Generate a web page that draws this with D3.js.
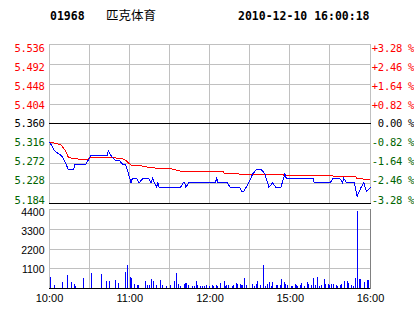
<!DOCTYPE html>
<html><head><meta charset="utf-8">
<script src="https://cdn.jsdelivr.net/npm/d3@7"></script>
<style>body{margin:0;background:#fff}svg{display:block}</style>
</head><body><svg id="c" width="414" height="314"></svg>
<script>
const stockCode = "01968";
const stockName = "匹克体育";
const stamp = "2010-12-10 16:00:18";
const prevClose = 5.360;
const priceTicks = [5.536, 5.492, 5.448, 5.404, 5.360, 5.316, 5.272, 5.228, 5.184];
const pctTicks = ["+3.28 %", "+2.46 %", "+1.64 %", "+0.82 %", "0.00 %", "-0.82 %", "-1.64 %", "-2.46 %", "-3.28 %"];
const volTicks = [4400, 3300, 2200, 1100];
const timeTicks = ["10:00", "11:00", "12:00", "15:00", "16:00"];
const gridTimes = ["10:00", "10:30", "11:00", "11:30", "12:00", "12:30", "15:00", "15:30", "16:00"];

const priceTimes = ["10:00","10:04","10:09","10:11","10:14","10:18","10:19","10:27","10:29","10:31","10:43","10:44","10:46","10:49","10:52","10:55","10:57","10:59","11:00","11:01","11:02","11:05","11:07","11:10","11:14","11:16","11:17","11:20","11:21","11:22","11:38","11:40","11:41","11:42","11:44","12:04","12:05","12:06","12:13","12:15","12:22","12:24","12:25","12:27","12:29","14:32","14:35","14:38","14:41","14:44","14:47","14:49","14:53","14:56","14:57","15:17","15:18","15:30","15:32","15:37","15:39","15:40","15:42","15:48","15:50","15:53","15:55","15:57","16:00"];
const priceValues = [5.32,5.30,5.29,5.28,5.26,5.26,5.27,5.27,5.28,5.29,5.29,5.30,5.29,5.28,5.28,5.27,5.27,5.25,5.24,5.23,5.24,5.24,5.23,5.24,5.24,5.23,5.24,5.22,5.23,5.22,5.22,5.23,5.23,5.22,5.23,5.23,5.24,5.23,5.23,5.22,5.22,5.21,5.21,5.22,5.23,5.25,5.26,5.26,5.25,5.22,5.23,5.22,5.22,5.25,5.24,5.24,5.23,5.23,5.24,5.24,5.23,5.24,5.23,5.23,5.20,5.22,5.23,5.21,5.22];

const avgTimes = ["10:00","10:05","10:09","10:12","10:14","10:15","10:23","10:29","10:30","10:49","10:56","10:59","11:01","11:09","11:16","11:31","11:35","11:37","12:00","12:10","12:11","12:26","14:56","15:30","15:31","15:49","15:50","15:56","16:00"];
const avgValues = [5.320,5.317,5.313,5.300,5.287,5.285,5.282,5.282,5.285,5.285,5.282,5.274,5.269,5.267,5.263,5.261,5.258,5.256,5.254,5.254,5.250,5.249,5.247,5.246,5.245,5.243,5.239,5.238,5.236];

const volTimes = ["10:01","10:04","10:10","10:14","10:17","10:19","10:20","10:26","10:32","10:39","10:43","10:45","10:50","10:52","10:57","10:59","11:01","11:02","11:04","11:06","11:07","11:12","11:14","11:15","11:17","11:18","11:20","11:23","11:25","11:28","11:31","11:34","11:35","11:37","11:38","11:41","11:42","11:43","11:44","11:47","11:49","11:50","11:51","11:53","11:55","11:56","11:58","12:00","12:02","12:03","12:05","12:06","12:08","12:11","12:12","12:13","12:14","12:17","12:18","12:20","12:21","12:23","12:24","12:25","12:26","12:28","14:32","14:34","14:35","14:36","14:38","14:40","14:42","14:43","14:45","14:46","14:47","14:50","14:51","14:53","14:54","14:56","14:57","14:58","15:01","15:02","15:04","15:05","15:06","15:08","15:09","15:11","15:13","15:14","15:16","15:18","15:19","15:21","15:22","15:24","15:26","15:27","15:29","15:30","15:31","15:33","15:35","15:36","15:38","15:39","15:41","15:43","15:44","15:46","15:48","15:49","15:51","15:52","15:53","15:56","15:58","15:59"];
const volValues = [630,185,315,740,315,240,130,575,850,760,370,370,425,260,910,1300,630,535,200,145,145,390,145,145,520,370,145,460,145,130,185,410,850,240,130,220,300,300,185,130,130,410,145,130,130,130,185,130,185,130,185,130,280,410,130,185,185,130,185,300,240,220,185,185,575,185,240,130,200,410,185,1300,110,240,330,110,330,165,165,165,500,330,220,165,110,110,240,185,130,165,275,110,350,240,185,575,185,630,110,185,520,220,240,185,220,220,185,130,185,220,400,400,260,165,130,575,4300,520,520,330,460,460];

// trading-minute index: 10:00-12:30 then 14:30-16:00
function tmin(s) {
  const [h, m] = s.split(":").map(Number);
  const t = h * 60 + m;
  return t <= 750 ? t - 600 : t - 870 + 150;
}

const svg = d3.select("#c");
const x = d3.scaleLinear().domain([0, 240]).range([49, 370]);
const yP = d3.scaleLinear().domain([5.184, 5.536]).range([203, 44]);
const yV = d3.scaleLinear().domain([0, 4400]).range([288, 209]);
const sx = v => Math.floor(v) + 0.5;
const sy = v => Math.round(v) + 0.5;

const GRID = "#c0c0c0", RED = "#ff0000", GREEN = "#006400", BLUE = "#0000ff";

// titles
svg.append("text").attr("x", 50).attr("y", 20).text(stockCode)
  .attr("font-family", "DejaVu Sans Mono").attr("font-weight", "bold").attr("font-size", "11.5px");
svg.append("text").attr("x", 106).attr("y", 20).text(stockName)
  .attr("font-family", "Noto Sans CJK SC").attr("font-size", "12.5px");
svg.append("text").attr("x", 238).attr("y", 20).text(stamp)
  .attr("font-family", "DejaVu Sans Mono").attr("font-weight", "bold").attr("font-size", "11.5px");

const g = svg.append("g");

// vertical grid (both panels)
[[44, 203], [209, 288]].forEach(([t, b]) => {
  g.selectAll(null).data(gridTimes).enter().append("line")
    .attr("x1", d => sx(x(tmin(d)))).attr("x2", d => sx(x(tmin(d))))
    .attr("y1", t).attr("y2", b + 1)
    .attr("stroke", GRID).attr("stroke-width", 1).attr("shape-rendering", "crispEdges");
});

// price horizontal grid
g.selectAll(null).data(priceTicks).enter().append("line")
  .attr("x1", 49).attr("x2", 371)
  .attr("y1", d => sy(yP(d))).attr("y2", d => sy(yP(d)))
  .attr("stroke", d => (d === prevClose || d === priceTicks[priceTicks.length - 1]) ? "#000" : GRID)
  .attr("stroke-width", 1).attr("shape-rendering", "crispEdges");

// volume horizontal grid
g.selectAll(null).data(volTicks.concat([0])).enter().append("line")
  .attr("x1", 49).attr("x2", 371)
  .attr("y1", d => sy(yV(d))).attr("y2", d => sy(yV(d)))
  .attr("stroke", d => d === 0 ? "#000" : GRID)
  .attr("stroke-width", 1).attr("shape-rendering", "crispEdges");
g.append("line").attr("x1", 370.5).attr("x2", 370.5).attr("y1", 209).attr("y2", 289)
  .attr("stroke", "#808080").attr("shape-rendering", "crispEdges");

// price axis labels
const lblY = (row, top, bot) => row + 7 * (bot - row) / (bot - top) + 0.5;
const pColor = d => d > prevClose + 1e-9 ? RED : (Math.abs(d - prevClose) < 1e-9 ? "#000" : GREEN);
svg.selectAll(null).data(priceTicks).enter().append("text")
  .attr("x", 44.5).attr("y", d => lblY(Math.round(yP(d)), 44, 203))
  .attr("text-anchor", "end").attr("fill", pColor)
  .attr("font-family", "DejaVu Sans Mono").attr("font-size", "10.5px").attr("letter-spacing", "-0.3px")
  .text(d => d.toFixed(3));
svg.selectAll(null).data(priceTicks).enter().append("text")
  .attr("x", 414).attr("y", d => lblY(Math.round(yP(d)), 44, 203))
  .attr("text-anchor", "end").attr("fill", pColor)
  .attr("font-family", "DejaVu Sans Mono").attr("font-size", "10.5px").attr("letter-spacing", "-0.3px")
  .text((d, i) => pctTicks[i]);

// volume labels
svg.selectAll(null).data(volTicks).enter().append("text")
  .attr("x", 44.5).attr("y", d => { const r = Math.round(yV(d)); return r + 6.7 - (r - 209) * 0.035; })
  .attr("text-anchor", "end").attr("fill", "#000")
  .attr("font-family", "Liberation Sans").attr("font-size", "10.5px")
  .text(d => d);

// time labels
svg.selectAll(null).data(timeTicks).enter().append("text")
  .attr("x", d => x(tmin(d)) + 0.5).attr("y", 302)
  .attr("text-anchor", "middle").attr("fill", "#000")
  .attr("font-family", "Liberation Sans").attr("font-size", "11px")
  .text(d => d);

// volume bars
svg.selectAll(null).data(volTimes.map((t, i) => ({ t: tmin(t), v: volValues[i] }))).enter().append("line")
  .attr("x1", d => sx(x(d.t))).attr("x2", d => sx(x(d.t)))
  .attr("y1", 288).attr("y2", d => Math.round(yV(d.v)))
  .attr("stroke", BLUE).attr("stroke-width", 1).attr("shape-rendering", "crispEdges");

// average line and price line
const line = d3.line().x(d => x(d.t) + 0.5).y(d => yP(d.v) + 0.5);
svg.append("path").datum(avgTimes.map((t, i) => ({ t: tmin(t), v: avgValues[i] })))
  .attr("d", line).attr("fill", "none").attr("stroke", RED).attr("stroke-width", 1)
  .attr("shape-rendering", "crispEdges");
svg.append("path").datum(priceTimes.map((t, i) => ({ t: tmin(t), v: priceValues[i] })))
  .attr("d", line).attr("fill", "none").attr("stroke", BLUE).attr("stroke-width", 1)
  .attr("shape-rendering", "crispEdges");
</script></body></html>
